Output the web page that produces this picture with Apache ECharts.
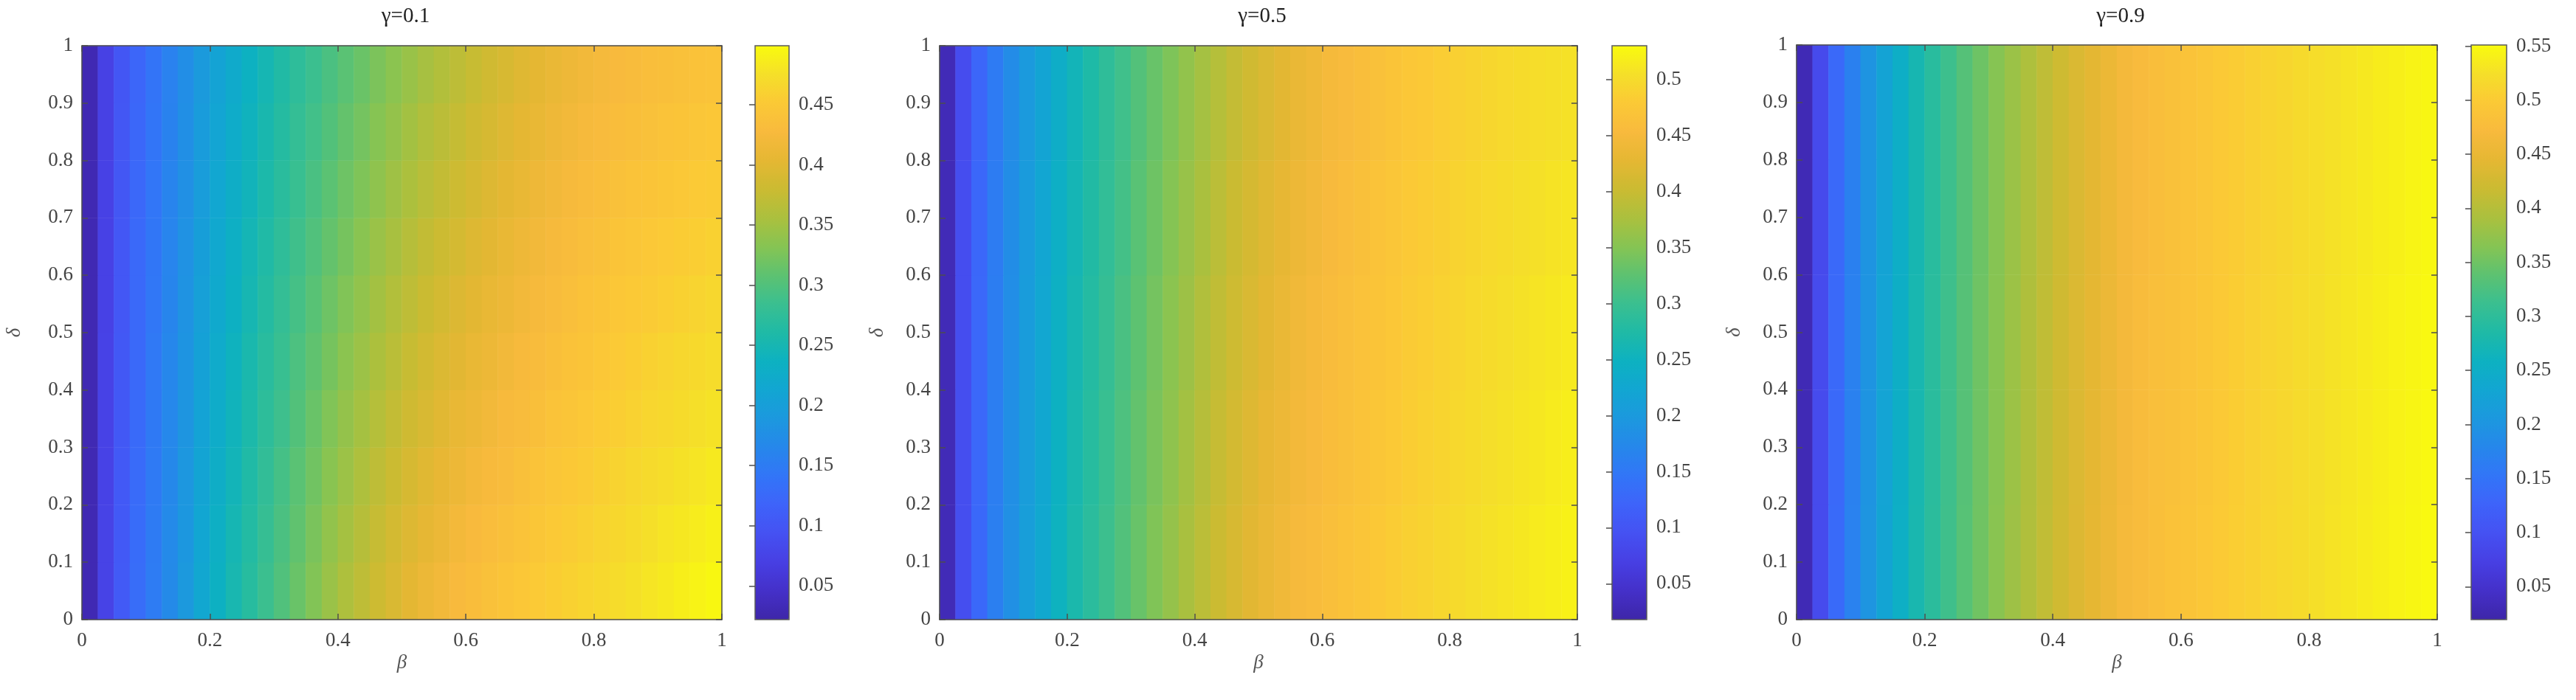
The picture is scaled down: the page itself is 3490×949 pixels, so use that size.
<!DOCTYPE html>
<html>
<head>
<meta charset="utf-8">
<title>beta-delta heatmaps</title>
<script src="https://cdn.jsdelivr.net/npm/echarts@6/dist/echarts.min.js"></script>
<style>
  html, body { margin: 0; padding: 0; background: #fff; }
  #chart { width: 3490px; height: 949px; }
</style>
</head>
<body>
<div id="chart"></div>
<script>
// column centres (beta) and row centres (delta) of the cells
const betaCenters = [
  0.0125, 0.0375, 0.0625, 0.0875, 0.1125, 0.1375, 0.1625, 0.1875, 0.2125, 0.2375,
  0.2625, 0.2875, 0.3125, 0.3375, 0.3625, 0.3875, 0.4125, 0.4375, 0.4625, 0.4875,
  0.5125, 0.5375, 0.5625, 0.5875, 0.6125, 0.6375, 0.6625, 0.6875, 0.7125, 0.7375,
  0.7625, 0.7875, 0.8125, 0.8375, 0.8625, 0.8875, 0.9125, 0.9375, 0.9625, 0.9875
];
const deltaCenters10 = [0.05, 0.15, 0.25, 0.35, 0.45, 0.55, 0.65, 0.75, 0.85, 0.95];
const deltaCenters5 = [0.1, 0.3, 0.5, 0.7, 0.9];

const titles = ['γ=0.1', 'γ=0.5', 'γ=0.9'];
const colorbarMin = [0.022, 0.018, 0.0195];
const colorbarMax = [0.499, 0.530, 0.551];

// gamma = 0.1, rows from delta = 0 (bottom) to delta = 1 (top)
const gamma01 = [
  [.030,.075,.105,.130,.150,.170,.190,.215,.235,.252,.268,.285,.300,.315,.330,.345,.358,.370,.382,.393,.403,.412,.420,.427,.433,.438,.443,.448,.452,.456,.460,.464,.468,.472,.476,.480,.484,.488,.492,.496],
  [.030,.075,.104,.129,.149,.169,.188,.212,.232,.249,.264,.281,.296,.310,.325,.340,.352,.364,.376,.387,.396,.405,.413,.421,.427,.432,.437,.442,.447,.451,.455,.459,.463,.467,.471,.475,.479,.482,.486,.490],
  [.030,.074,.104,.128,.148,.167,.187,.210,.229,.245,.261,.277,.292,.306,.320,.334,.346,.358,.370,.380,.390,.399,.407,.414,.421,.426,.431,.437,.441,.446,.450,.454,.458,.462,.466,.470,.473,.477,.480,.484],
  [.030,.074,.103,.127,.147,.166,.185,.207,.226,.242,.257,.273,.287,.301,.315,.329,.341,.352,.363,.374,.383,.392,.400,.408,.414,.420,.426,.431,.436,.441,.445,.449,.453,.457,.461,.465,.468,.471,.475,.478],
  [.030,.074,.103,.126,.146,.165,.183,.205,.223,.239,.254,.269,.283,.297,.310,.323,.335,.346,.357,.367,.377,.386,.394,.401,.408,.414,.420,.426,.431,.436,.440,.444,.448,.452,.456,.460,.463,.466,.469,.472],
  [.030,.073,.102,.126,.144,.163,.182,.202,.220,.235,.250,.265,.279,.292,.305,.318,.329,.340,.351,.361,.370,.379,.387,.395,.402,.408,.414,.420,.425,.430,.435,.440,.444,.448,.451,.454,.457,.460,.463,.466],
  [.030,.073,.102,.125,.143,.162,.180,.200,.217,.232,.247,.261,.275,.288,.300,.312,.323,.334,.345,.354,.364,.373,.381,.388,.396,.402,.408,.415,.420,.425,.430,.435,.439,.443,.446,.449,.452,.455,.457,.460],
  [.030,.073,.101,.124,.142,.161,.178,.197,.214,.229,.243,.257,.270,.283,.295,.307,.318,.328,.338,.348,.357,.366,.374,.382,.389,.396,.403,.409,.415,.420,.425,.430,.434,.438,.441,.444,.447,.449,.452,.454],
  [.030,.072,.101,.123,.141,.159,.177,.195,.211,.225,.240,.253,.266,.279,.290,.301,.312,.322,.332,.341,.351,.360,.368,.375,.383,.390,.397,.404,.409,.415,.420,.425,.429,.433,.436,.439,.441,.444,.446,.448],
  [.030,.072,.100,.122,.140,.158,.175,.192,.208,.222,.236,.249,.262,.274,.285,.296,.306,.316,.326,.335,.344,.353,.361,.369,.377,.384,.391,.398,.404,.410,.415,.420,.424,.428,.431,.434,.436,.438,.440,.442]
];

// gamma = 0.5, rows of delta bands 0-0.2 ... 0.8-1
const gamma05 = [
  [.030,.090,.128,.160,.185,.208,.228,.250,.268,.285,.301,.317,.332,.347,.361,.375,.389,.402,.414,.425,.435,.443,.450,.456,.462,.467,.472,.477,.482,.487,.491,.495,.499,.503,.506,.509,.512,.515,.518,.521],
  [.030,.090,.127,.159,.184,.206,.226,.248,.265,.282,.298,.314,.329,.343,.357,.371,.385,.398,.410,.421,.431,.439,.446,.452,.459,.464,.469,.474,.479,.484,.488,.492,.496,.500,.503,.506,.509,.512,.515,.518],
  [.030,.089,.127,.158,.182,.204,.224,.245,.263,.279,.295,.311,.325,.340,.354,.367,.381,.393,.405,.416,.426,.435,.442,.449,.456,.461,.466,.471,.476,.481,.485,.489,.493,.497,.500,.503,.506,.509,.512,.514],
  [.030,.089,.126,.156,.181,.202,.222,.243,.260,.276,.292,.307,.322,.336,.350,.363,.376,.389,.401,.412,.422,.430,.438,.445,.452,.458,.463,.468,.473,.478,.482,.486,.490,.494,.497,.500,.503,.505,.508,.510],
  [.030,.088,.125,.155,.179,.200,.220,.240,.257,.273,.289,.304,.318,.332,.346,.359,.372,.384,.396,.407,.417,.426,.434,.441,.449,.455,.460,.465,.470,.475,.479,.483,.487,.491,.494,.497,.500,.502,.504,.506]
];

// gamma = 0.9, rows of delta bands 0-0.2 ... 0.8-1
const gamma09 = [
  [.030,.090,.136,.171,.201,.229,.253,.276,.297,.316,.334,.351,.367,.382,.396,.410,.423,.435,.446,.456,.467,.475,.481,.485,.489,.494,.499,.504,.508,.512,.516,.520,.524,.528,.532,.536,.540,.543,.546,.549],
  [.030,.090,.135,.170,.200,.228,.252,.275,.296,.315,.333,.350,.366,.381,.395,.409,.422,.434,.445,.455,.466,.474,.480,.484,.488,.493,.498,.503,.507,.511,.515,.519,.523,.527,.531,.535,.539,.542,.545,.548],
  [.030,.090,.135,.170,.200,.228,.252,.275,.296,.315,.333,.350,.366,.381,.395,.409,.422,.434,.445,.455,.466,.474,.480,.484,.488,.493,.498,.503,.507,.511,.515,.519,.523,.527,.531,.535,.539,.542,.545,.548],
  [.030,.089,.134,.169,.199,.227,.251,.274,.295,.314,.332,.349,.365,.380,.394,.408,.421,.433,.444,.454,.465,.473,.479,.483,.487,.492,.497,.502,.506,.510,.514,.518,.522,.526,.530,.534,.538,.541,.544,.547],
  [.030,.089,.134,.169,.199,.227,.251,.274,.295,.314,.332,.349,.365,.380,.394,.408,.421,.433,.444,.454,.465,.473,.479,.483,.487,.492,.497,.502,.506,.510,.514,.518,.522,.525,.529,.533,.537,.540,.543,.546]
];

const panelRows = [gamma01, gamma05, gamma09];
const panelDeltas = [deltaCenters10, deltaCenters5, deltaCenters5];

// parula-like colormap, evenly spaced stops
const parula = ['#3e26a8', '#4430c9', '#473fe3', '#4551f2', '#3e63fa', '#3275f7', '#2687eb',
  '#1c98de', '#12a6d2', '#0db1c1', '#1fbaa6', '#3abf90', '#5dc271', '#86c453', '#abc03e',
  '#cbbb32', '#e5b733', '#f8ba3d', '#fbc936', '#f5df29', '#f9fb0e'];

const FONT = '"Liberation Serif", "DejaVu Serif", serif';
const lineStyle = { color: '#4d4d4d', width: 1.5 };
const labelStyle = { fontFamily: FONT, fontSize: 27, color: '#444' };

const layout = [
  { left: 111, width: 867, top: 62, height: 778, cbLeft: 1023, cbWidth: 46, yName: 20 },
  { left: 1273, width: 864, top: 62, height: 778, cbLeft: 2184, cbWidth: 47, yName: 1189 },
  { left: 2434, width: 868, top: 61, height: 779, cbLeft: 3348, cbWidth: 48, yName: 2350 }
];

function toCells(rows) {
  let out = [];
  for (let yi = 0; yi < rows.length; yi++) {
    for (let xi = 0; xi < rows[yi].length; xi++) {
      out.push([xi, yi, rows[yi][xi]]);
    }
  }
  return out;
}

let grids = [], xAxes = [], yAxes = [], visualMaps = [], series = [], titleList = [], texts = [];

for (let i = 0; i < 3; i++) {
  let L = layout[i];

  // main plot
  let g = grids.length;
  grids.push({ left: L.left, top: L.top, width: L.width, height: L.height, show: false, outerBoundsMode: 'none' });
  let xCat = xAxes.length;
  xAxes.push({ type: 'category', gridIndex: g, data: betaCenters, show: false, boundaryGap: true });
  xAxes.push({
    type: 'value', gridIndex: g, position: 'bottom', min: 0, max: 1, interval: 0.2, z: 5,
    axisLine: { show: true, onZero: false, lineStyle: lineStyle },
    axisTick: { show: true, inside: true, length: 8, lineStyle: lineStyle },
    axisLabel: Object.assign({ margin: 15 }, labelStyle),
    splitLine: { show: false }
  });
  xAxes.push({
    type: 'value', gridIndex: g, position: 'top', min: 0, max: 1, interval: 0.2, z: 5,
    axisLine: { show: true, onZero: false, lineStyle: lineStyle },
    axisTick: { show: true, inside: true, length: 8, lineStyle: lineStyle },
    axisLabel: { show: false }, splitLine: { show: false }
  });
  let yCat = yAxes.length;
  yAxes.push({ type: 'category', gridIndex: g, data: panelDeltas[i], show: false, boundaryGap: true });
  yAxes.push({
    type: 'value', gridIndex: g, position: 'left', min: 0, max: 1, interval: 0.1, z: 5,
    axisLine: { show: true, onZero: false, lineStyle: lineStyle },
    axisTick: { show: true, inside: true, length: 8, lineStyle: lineStyle },
    axisLabel: Object.assign({ margin: 12 }, labelStyle),
    splitLine: { show: false }
  });
  yAxes.push({
    type: 'value', gridIndex: g, position: 'right', min: 0, max: 1, interval: 0.1, z: 5,
    axisLine: { show: true, onZero: false, lineStyle: lineStyle },
    axisTick: { show: true, inside: true, length: 8, lineStyle: lineStyle },
    axisLabel: { show: false }, splitLine: { show: false }
  });

  series.push({
    type: 'heatmap', xAxisIndex: xCat, yAxisIndex: yCat,
    data: toCells(panelRows[i]),
    itemStyle: { borderWidth: 0 },
    emphasis: { disabled: true },
    progressive: 0
  });

  visualMaps.push({
    type: 'continuous', seriesIndex: i, dimension: 2,
    min: colorbarMin[i], max: colorbarMax[i],
    inRange: { color: parula },
    calculable: false, orient: 'vertical',
    itemWidth: L.cbWidth, itemHeight: L.height,
    left: L.cbLeft - 5, top: L.top - 5, padding: 5,
    text: null, hoverLink: false
  });

  // colorbar frame and ticks
  let cg = grids.length;
  grids.push({
    left: L.cbLeft, top: L.top, width: L.cbWidth, height: L.height, outerBoundsMode: 'none',
    show: true, borderColor: '#5a5a5a', borderWidth: 1.5, backgroundColor: 'transparent', z: 10
  });
  xAxes.push({ type: 'value', gridIndex: cg, show: false, min: 0, max: 1 });
  yAxes.push({
    type: 'value', gridIndex: cg, position: 'right', min: colorbarMin[i], max: colorbarMax[i],
    splitNumber: 10, z: 11,
    axisLine: { show: false },
    axisTick: { show: true, inside: true, length: 8, lineStyle: lineStyle },
    axisLabel: Object.assign({ margin: 13, showMinLabel: false, showMaxLabel: false }, labelStyle),
    splitLine: { show: false }
  });

  titleList.push({
    text: titles[i], left: L.left + L.width / 2, top: 3, textAlign: 'center',
    textStyle: { fontFamily: FONT, fontSize: 29, fontWeight: 'normal', color: '#222' }
  });

  // axis titles
  texts.push({
    type: 'text', x: L.left + L.width / 2, y: 899,
    style: { text: 'β', font: 'italic 27px ' + FONT, fill: '#555', align: 'center', verticalAlign: 'middle' }
  });
  texts.push({
    type: 'text', x: L.yName, y: L.top + L.height / 2, rotation: Math.PI / 2,
    style: { text: 'δ', font: 'italic 27px ' + FONT, fill: '#555', align: 'center', verticalAlign: 'middle' }
  });
}

let myChart = echarts.init(document.getElementById('chart'));
myChart.setOption({
  backgroundColor: '#ffffff',
  animation: false,
  title: titleList,
  grid: grids,
  xAxis: xAxes,
  yAxis: yAxes,
  visualMap: visualMaps,
  graphic: texts,
  series: series
});
</script>
</body>
</html>
